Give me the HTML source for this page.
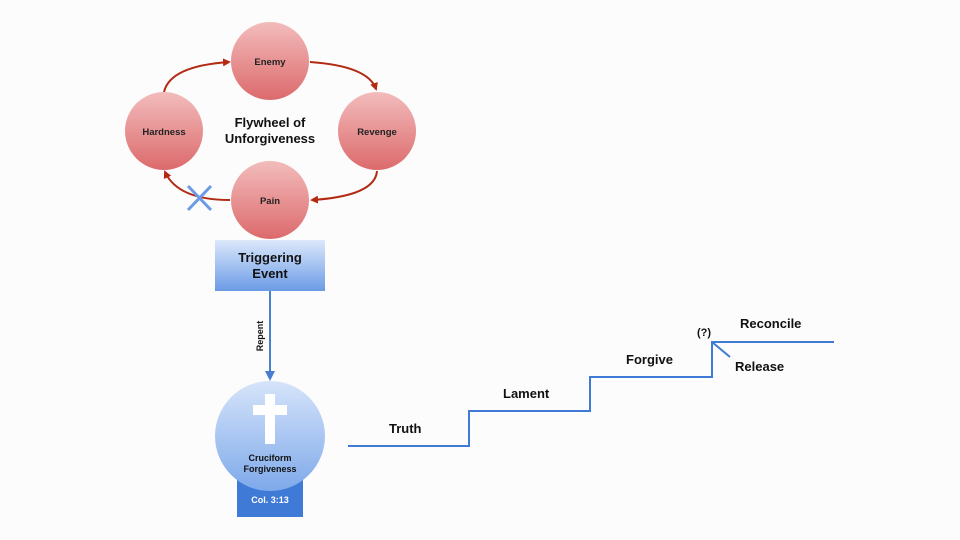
<!DOCTYPE html>
<html><head><meta charset="utf-8"><style>
body{margin:0;background:#fcfcfc;}
svg{display:block;font-family:"Liberation Sans",sans-serif;font-weight:bold;}
</style></head><body>
<svg width="960" height="540" viewBox="0 0 960 540" xmlns="http://www.w3.org/2000/svg">
<defs>
<linearGradient id="r" x1="0" y1="0" x2="0" y2="1"><stop offset="0" stop-color="#f3bcbc"/><stop offset="1" stop-color="#dc6a6c"/></linearGradient>
<linearGradient id="b" x1="0" y1="0" x2="0" y2="1"><stop offset="0" stop-color="#dce8fb"/><stop offset="1" stop-color="#6b9be6"/></linearGradient>
<linearGradient id="c" x1="0" y1="0" x2="0" y2="1"><stop offset="0" stop-color="#d6e4fa"/><stop offset="1" stop-color="#7ea9ea"/></linearGradient>
<marker id="ar" markerWidth="8" markerHeight="8" refX="6" refY="4" orient="auto" markerUnits="userSpaceOnUse"><path d="M0,0 L8,4 L0,8 z" fill="#b22a12"/></marker>
<marker id="ab" markerWidth="10" markerHeight="10" refX="8" refY="5" orient="auto" markerUnits="userSpaceOnUse"><path d="M0,0 L10,5 L0,10 z" fill="#4a7fd0"/></marker>
</defs>
<g fill="none" stroke="#b22a12" stroke-width="2">
<path d="M164,92 Q170,66 229,62" marker-end="url(#ar)"/>
<path d="M310,62 Q368,66 376,89" marker-end="url(#ar)"/>
<path d="M377,171 Q375,196 312,200" marker-end="url(#ar)"/>
<path d="M230,200 Q178,200 165,172" marker-end="url(#ar)"/>
</g>
<g stroke="#6b9be6" stroke-width="3"><line x1="188" y1="186" x2="211" y2="210"/><line x1="211" y1="186" x2="188" y2="210"/></g>
<g fill="url(#r)">
<circle cx="270" cy="61" r="39"/><circle cx="377" cy="131" r="39"/><circle cx="164" cy="131" r="39"/><circle cx="270" cy="200" r="39"/>
</g>
<g font-size="9.5" text-anchor="middle" fill="#222">
<text x="270" y="65">Enemy</text><text x="377" y="135">Revenge</text><text x="164" y="135">Hardness</text><text x="270" y="204">Pain</text>
</g>
<text x="270" y="127" font-size="13" text-anchor="middle" fill="#111">Flywheel of</text>
<text x="270" y="143" font-size="13" text-anchor="middle" fill="#111">Unforgiveness</text>
<rect x="215" y="240" width="110" height="51" fill="url(#b)"/>
<text x="270" y="262" font-size="13" text-anchor="middle" fill="#111">Triggering</text>
<text x="270" y="278" font-size="13" text-anchor="middle" fill="#111">Event</text>
<line x1="270" y1="291" x2="270" y2="379" stroke="#4a7fd0" stroke-width="2" marker-end="url(#ab)"/>
<text transform="translate(263,336) rotate(-90)" font-size="9" text-anchor="middle" fill="#111">Repent</text>
<rect x="237" y="478" width="66" height="39" fill="#3f7ad6"/>
<circle cx="270" cy="436" r="55" fill="url(#c)"/>
<rect x="265" y="394" width="10" height="50" fill="#fff"/><rect x="253" y="405" width="34" height="10" fill="#fff"/>
<text x="270" y="461" font-size="9" text-anchor="middle" fill="#111">Cruciform</text>
<text x="270" y="472" font-size="9" text-anchor="middle" fill="#111">Forgiveness</text>
<text x="270" y="503" font-size="9" text-anchor="middle" fill="#fff">Col. 3:13</text>
<path d="M348,446 H469 V411 H590 V377 H712 V342 H834 M712,342 L730,357" fill="none" stroke="#3f7ad6" stroke-width="2"/>
<g font-size="13" fill="#111">
<text x="389" y="433">Truth</text><text x="503" y="398">Lament</text><text x="626" y="364">Forgive</text>
<text x="740" y="328">Reconcile</text><text x="735" y="371">Release</text>
<text x="697" y="336" font-size="11">(?)</text>
</g>
</svg>
</body></html>
